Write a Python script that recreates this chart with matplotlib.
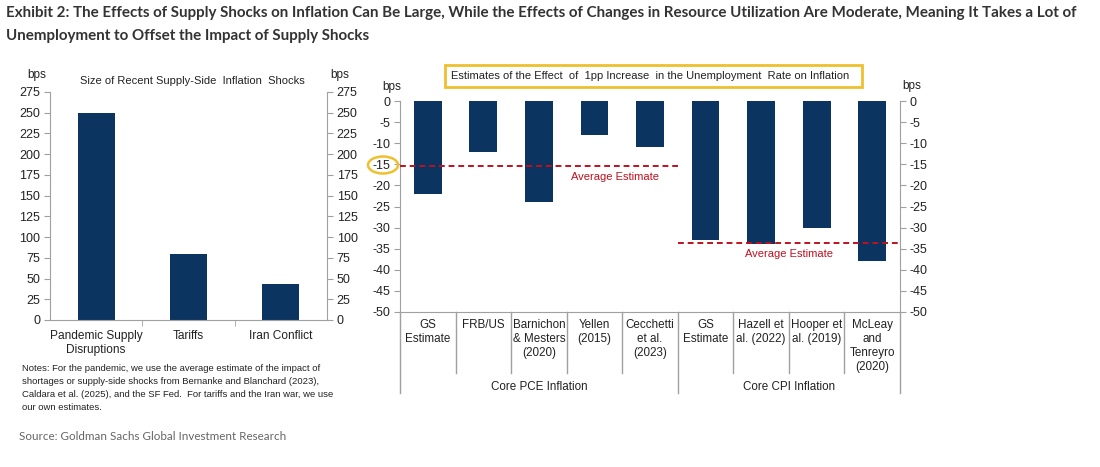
import matplotlib
matplotlib.use("Agg")
import matplotlib.pyplot as plt
from matplotlib.patches import Rectangle, Ellipse
from matplotlib.transforms import blended_transform_factory

# ---------------- data ----------------
shock_labels = ["Pandemic Supply\nDisruptions", "Tariffs", "Iran Conflict"]
shock_values = [250, 80, 43]

est_labels = ["GS\nEstimate", "FRB/US", "Barnichon\n& Mesters\n(2020)", "Yellen\n(2015)",
              "Cecchetti\net al.\n(2023)", "GS\nEstimate", "Hazell et\nal. (2022)",
              "Hooper et\nal. (2019)", "McLeay\nand\nTenreyro\n(2020)"]
est_values = [-22, -12, -24, -8, -11, -33, -34, -30, -38]
groups = ["Core PCE Inflation", "Core CPI Inflation"]
group_sizes = [5, 4]

title = ("Exhibit 2: The Effects of Supply Shocks on Inflation Can Be Large, While the Effects of "
         "Changes in Resource Utilization Are Moderate, Meaning It Takes a Lot of\n"
         "Unemployment to Offset the Impact of Supply Shocks")
left_title = "Size of Recent Supply-Side  Inflation  Shocks"
right_title = "Estimates of the Effect  of  1pp Increase  in the Unemployment  Rate on Inflation"
avg_label = "Average Estimate"
notes = ("Notes: For the pandemic, we use the average estimate of the impact of\n"
         "shortages or supply-side shocks from Bernanke and Blanchard (2023),\n"
         "Caldara et al. (2025), and the SF Fed.  For tariffs and the Iran war, we use\n"
         "our own estimates.")
source = "Source: Goldman Sachs Global Investment Research"

# ---------------- style ----------------
W, H = 1100, 467
NAVY = "#0B3461"
GREY = "#A0A0A0"
RED = "#C0101E"
YEL = "#EFC02E"
TXT = "#222222"
plt.rcParams["font.family"] = ["Liberation Sans", "DejaVu Sans"]
plt.rcParams["axes.unicode_minus"] = False
TF = 9

def fx(p): return p / W
def fy(p): return 1 - p / H

fig = plt.figure(figsize=(11, 4.67), dpi=100)
renderer = fig.canvas.get_renderer()

def fit(t, target_px):
    w = t.get_window_extent(renderer).width
    t.set_fontsize(t.get_fontsize() * target_px / w)

# ---------------- left chart ----------------
axL = fig.add_axes([fx(50), fy(320), fx(327) - fx(50), fy(92) - fy(320)])
xs = list(range(len(shock_values)))
axL.bar(xs, shock_values, width=0.4, color=NAVY, zorder=2)
axL.set_xlim(-0.5, len(xs) - 0.5)
axL.set_ylim(0, 275)
axL.set_yticks(range(0, 276, 25))
axL.set_xticks(xs)
axL.set_xticklabels(shock_labels, fontsize=8.6, color=TXT, linespacing=1.2)
axL.set_xticks([0.5, 1.5], minor=True)
axL.tick_params(axis="x", which="major", length=0, pad=7)
axL.tick_params(axis="x", which="minor", length=4, color=GREY, direction="out")
axL.tick_params(axis="y", left=True, right=True, labelleft=True, labelright=True,
                direction="out", length=4, color=GREY, labelsize=TF, labelcolor=TXT, pad=3)
axL.spines["top"].set_visible(False)
for s in ["left", "right", "bottom"]:
    axL.spines[s].set_color(GREY)
fig.text(fx(37), fy(75), "bps", fontsize=8.5, ha="center", va="center", color=TXT)
fig.text(fx(340), fy(75), "bps", fontsize=8.5, ha="center", va="center", color=TXT)
tl = fig.text(fx(192), fy(81), left_title, fontsize=8.8, ha="center", va="center", color=TXT)
fit(tl, 225)

# ---------------- right chart ----------------
axR = fig.add_axes([fx(400), fy(312), fx(900) - fx(400), fy(101) - fy(312)])
xr = list(range(len(est_values)))
axR.bar(xr, est_values, width=0.5, color=NAVY, zorder=2)
axR.set_xlim(-0.5, len(xr) - 0.5)
axR.set_ylim(-50, 0)
axR.set_yticks(range(-50, 1, 5))
axR.set_xticks([])
axR.tick_params(axis="y", left=True, right=True, labelleft=True, labelright=True,
                direction="out", length=4, color=GREY, labelsize=TF, labelcolor=TXT, pad=3)
axR.spines["top"].set_visible(False)
for s in ["left", "right", "bottom"]:
    axR.spines[s].set_color(GREY)

trans = blended_transform_factory(axR.transData, axR.transAxes)
inner_bottom = (312 - 373) / (312 - 101)
group_bottom = (312 - 393) / (312 - 101)
start = 0
bounds = [-0.5]
for g in group_sizes:
    start += g
    bounds.append(start - 0.5)
for i in range(len(xr) + 1):
    b = i - 0.5
    yb = group_bottom if b in bounds else inner_bottom
    axR.plot([b, b], [0, yb], transform=trans, color=GREY, lw=1, clip_on=False)
for i, lab in enumerate(est_labels):
    axR.text(i, (312 - 319) / 211, lab, transform=trans, ha="center", va="top",
             fontsize=8.4, color=TXT, linespacing=1.22)
start = 0
for g, n in zip(groups, group_sizes):
    c = start + (n - 1) / 2
    axR.text(c, (312 - 387) / 211, g, transform=trans, ha="center", va="center",
             fontsize=8.4, color=TXT)
    start += n

# average lines
avg_text_x = [3.37, 6.5]
start = 0
for gi, n in enumerate(group_sizes):
    vals = est_values[start:start + n]
    avg = sum(vals) / n
    axR.plot([start - 0.5, start + n - 0.5], [avg, avg], color=RED, lw=1.4,
             ls=(0, (3, 2)), zorder=3, clip_on=False)
    axR.text(avg_text_x[gi], avg - 2.6, avg_label, ha="center", va="center",
             fontsize=8.0, color=RED, zorder=4)
    start += n

fig.text(fx(392), fy(87), "bps", fontsize=8.5, ha="center", va="center", color=TXT)
fig.text(fx(912), fy(86), "bps", fontsize=8.5, ha="center", va="center", color=TXT)

fig.patches.append(Rectangle((fx(445), fy(87)), fx(862) - fx(445), fy(65) - fy(87),
                             transform=fig.transFigure, fill=False, edgecolor=YEL, lw=2))
tr = fig.text(fx(650), fy(76), right_title, fontsize=8.8, ha="center", va="center", color=TXT)
fit(tr, 396)

fig.patches.append(Ellipse((fx(383), fy(165)), fx(30), 17 / H, transform=fig.transFigure,
                           fill=False, edgecolor=YEL, lw=1.8))

# ---------------- texts ----------------
lines = title.split("\n")
t = fig.text(fx(6), fy(6), title, fontsize=10.5, fontweight="bold", color="#333",
             ha="left", va="top", family=["Lato", "DejaVu Sans"], linespacing=1.85)
tmp = fig.text(0, 0, lines[0], fontsize=10.5, fontweight="bold", family=["Lato", "DejaVu Sans"])
wpx = tmp.get_window_extent(renderer).width
tmp.remove()
t.set_fontsize(10.5 * 1075 / wpx)

nt = fig.text(fx(22), fy(364), notes, fontsize=7, color=TXT, ha="left", va="top",
              linespacing=1.55)
tmp = fig.text(0, 0, notes.split("\n")[0], fontsize=7)
nw = tmp.get_window_extent(renderer).width
tmp.remove()
nt.set_fontsize(7 * 297 / nw)

st = fig.text(fx(19), fy(437), source, fontsize=9.5, color="#666", ha="left", va="center",
              family=["Lato", "DejaVu Sans"])
fit(st, 267)

fig.savefig("out.png", dpi=100, facecolor="white")
